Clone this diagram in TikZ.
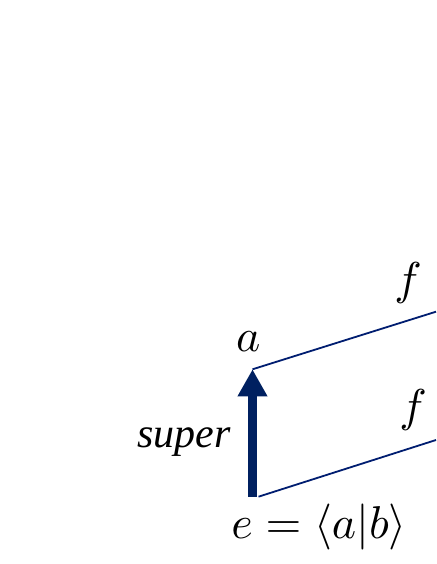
\documentclass[tikz,border=0pt]{standalone}
\usepackage{fontspec}
\setmainfont{Liberation Serif}
\usepackage{tikz}
\usetikzlibrary{arrows.meta}
\definecolor{navy}{RGB}{0,32,96}
\colorlet{supercol}{navy}
\colorlet{fcol}{navy!90!blue}
\tikzstyle{label}=[inner sep=0,scale=4.2]
\tikzstyle{mathlabel}=[inner sep=0,scale=4.6]
\tikzstyle{superarrow}=[-{Triangle[width=28pt,length=27pt]},line width=8.7pt,supercol]
\tikzstyle{fline}=[line width=1.8pt,fcol]

\begin{document}
\begin{tikzpicture}[x=1pt,y=1pt]
  \useasboundingbox (0,0) rectangle (436,564);

  % POINTS
  \coordinate (e) at (252.5,67.3);
  \coordinate (a) at (252.5,194.7);
  \coordinate (e') at (258.5,67.3);
  \coordinate (fa) at (436,252.3);
  \coordinate (fe) at (436,124);

  % ARROWS
  \draw[superarrow] (e) -- (a);
  \draw[fline] (a) -- (fa);
  \draw[fline] (e') -- (fe);

  % LABELS
  \node[mathlabel] (alab) at (248.3,222.3) {$a$};
  \node[mathlabel] (elab) at (319,37.3) {$e=\langle a|b\rangle$};
  \node[label] (superlab) at (184,122.3) {\textit{super}};
  \node[mathlabel] (fup) at (408,281) {$f$};
  \node[mathlabel] (fdown) at (413,154) {$f$};

\end{tikzpicture}
\end{document}
